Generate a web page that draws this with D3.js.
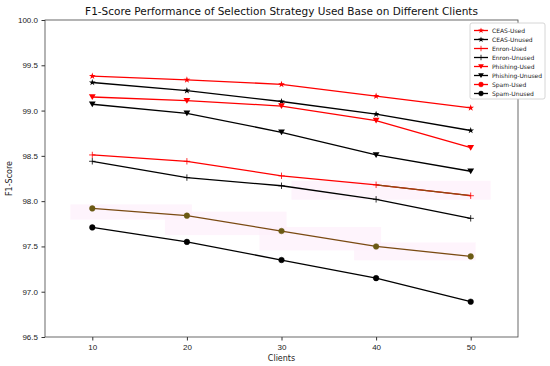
<!DOCTYPE html>
<html><head><meta charset="utf-8">
<script src="https://cdn.jsdelivr.net/npm/d3@7"></script>
<style>body{margin:0;background:#fff}svg{display:block;font-family:"DejaVu Sans",sans-serif}</style>
</head><body><svg id="c" width="550" height="366"></svg>
<script>
const clients = [10, 20, 30, 40, 50];
const ceasUsed = [99.38, 99.34, 99.29, 99.16, 99.03];
const ceasUnused = [99.31, 99.22, 99.10, 98.96, 98.78];
const enronUsed = [98.51, 98.44, 98.28, 98.18, 98.06];
const enronUnused = [98.44, 98.26, 98.17, 98.02, 97.81];
const phishingUsed = [99.15, 99.11, 99.05, 98.89, 98.59];
const phishingUnused = [99.07, 98.97, 98.76, 98.51, 98.33];
const spamUsed = [97.92, 97.84, 97.67, 97.50, 97.39];
const spamUnused = [97.71, 97.55, 97.35, 97.15, 96.89];
const yTicks = [96.5, 97.0, 97.5, 98.0, 98.5, 99.0, 99.5, 100.0];
const xTicks = [10, 20, 30, 40, 50];

const series = [
  {name:"CEAS-Used", values:ceasUsed, color:"#ff0000", marker:"star"},
  {name:"CEAS-Unused", values:ceasUnused, color:"#000000", marker:"star"},
  {name:"Enron-Used", values:enronUsed, color:"#ff0000", marker:"plus"},
  {name:"Enron-Unused", values:enronUnused, color:"#000000", marker:"plus"},
  {name:"Phishing-Used", values:phishingUsed, color:"#ff0000", marker:"tri"},
  {name:"Phishing-Unused", values:phishingUnused, color:"#000000", marker:"tri"},
  {name:"Spam-Used", values:spamUsed, color:"#ff0000", marker:"circle", draw:"#7a4a12", mfill:"#6b5a14"},
  {name:"Spam-Unused", values:spamUnused, color:"#000000", marker:"circle"}
];

const svg = d3.select("#c");
const m = {l:45, r:518, t:20, b:337};
const x = d3.scaleLinear().domain([5,55]).range([m.l, m.r]);
const y = d3.scaleLinear().domain([96.5,100]).range([m.b, m.t]);

// faint pink highlight bands behind brown segments
const bandG = svg.append("g");
spamUsed.forEach((v,i)=>{
  if(i<spamUsed.length-1){
    const x0=x(clients[i])-22, x1=x(clients[i+1])+5;
    bandG.append("rect").attr("x",x0).attr("y",Math.min(y(v),y(spamUsed[i+1]))-4)
      .attr("width",x1-x0).attr("height",Math.abs(y(v)-y(spamUsed[i+1]))+8)
      .attr("fill","#fdf0fb").attr("opacity",0.7);
  }
});
bandG.append("rect").attr("x",x(30)+10).attr("y",y(enronUsed[3])-4).attr("width",x(50)-x(30)+10)
  .attr("height",y(enronUsed[4])-y(enronUsed[3])+8).attr("fill","#fdf0fb").attr("opacity",0.7);

// axes
svg.append("g").attr("transform",`translate(0,${m.b})`)
  .call(d3.axisBottom(x).tickValues(xTicks).tickSize(3.5).tickPadding(3.5).tickFormat(d3.format("d")))
  .call(g=>{g.select(".domain").remove();g.selectAll("text").attr("font-size",8).attr("fill","#222");g.selectAll("line").attr("stroke","#333")});
svg.append("g").attr("transform",`translate(${m.l},0)`)
  .call(d3.axisLeft(y).tickValues(yTicks).tickSize(3.5).tickPadding(3.5).tickFormat(d3.format(".1f")))
  .call(g=>{g.select(".domain").remove();g.selectAll("text").attr("font-size",8).attr("fill","#222");g.selectAll("line").attr("stroke","#333")});
svg.append("rect").attr("x",m.l).attr("y",m.t).attr("width",m.r-m.l).attr("height",m.b-m.t)
  .attr("fill","none").attr("stroke","#444").attr("stroke-width",0.8);

const line = d3.line().x((d,i)=>x(clients[i])).y(d=>y(d));

function marker(g, type, cx, cy, color, fill, s){
  s = s||1;
  if(type==="circle"){
    g.append("circle").attr("cx",cx).attr("cy",cy).attr("r",2.8*s).attr("fill",fill||color).attr("stroke",fill||color).attr("stroke-width",0.5);
  } else if(type==="tri"){
    const r=3.4*s;
    g.append("path").attr("d",`M${cx-r},${cy-r*0.8}L${cx+r},${cy-r*0.8}L${cx},${cy+r*0.9}Z`).attr("fill",color);
  } else if(type==="plus"){
    const r=3.2*s;
    g.append("path").attr("d",`M${cx-r},${cy}H${cx+r}M${cx},${cy-r}V${cy+r}`).attr("stroke",color).attr("stroke-width",0.8);
  } else if(type==="star"){
    g.append("path").attr("d",d3.symbol(d3.symbolStar, 14*s*s)()).attr("transform",`translate(${cx},${cy})`).attr("fill",color);
  }
}

const lg = svg.append("g");
series.forEach(s=>{
  lg.append("path").datum(s.values).attr("d",line).attr("fill","none")
    .attr("stroke",s.draw||s.color).attr("stroke-width",1.3);
  if(s.name==="Enron-Used"){
    lg.append("path").datum(s.values.slice(3)).attr("d",d3.line().x((d,i)=>x(clients[i+3])).y(d=>y(d)))
      .attr("fill","none").attr("stroke","#8a4a12").attr("stroke-width",1.3);
  }
  s.values.forEach((v,i)=>marker(lg, s.marker, x(clients[i]), y(v), s.draw?s.mfill:s.color, s.mfill));
});

// title & labels
svg.append("text").attr("x",281.5).attr("y",15).attr("text-anchor","middle").attr("font-size",10.5).attr("fill","#111")
  .text("F1-Score Performance of Selection Strategy Used Base on Different Clients");
svg.append("text").attr("x",281.5).attr("y",361).attr("text-anchor","middle").attr("font-size",8).attr("fill","#222").text("Clients");
svg.append("text").attr("transform",`translate(12,${(m.t+m.b)/2}) rotate(-90)`).attr("text-anchor","middle").attr("font-size",8).attr("fill","#222").text("F1-Score");

// legend
const L = svg.append("g").attr("transform","translate(470,23)");
L.append("rect").attr("x",0).attr("y",0).attr("width",75).attr("height",76).attr("rx",2)
  .attr("fill","#fff").attr("stroke","#ccc").attr("stroke-width",0.8);
series.forEach((s,i)=>{
  const yy = 7.5 + i*9;
  L.append("line").attr("x1",4).attr("x2",18).attr("y1",yy).attr("y2",yy).attr("stroke",s.color).attr("stroke-width",1.3);
  marker(L, s.marker, 11, yy, s.color, null, 0.85);
  L.append("text").attr("x",22).attr("y",yy+2.2).attr("font-size",6).attr("fill","#222").text(s.name);
});
</script></body></html>
